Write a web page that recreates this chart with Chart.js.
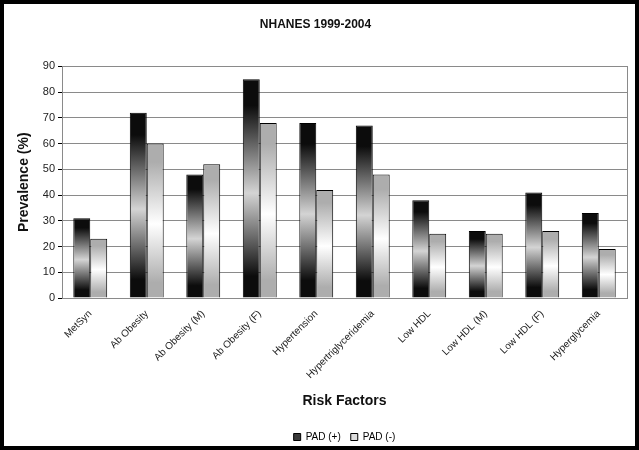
<!DOCTYPE html>
<html>
<head>
<meta charset="utf-8">
<script src="https://cdn.jsdelivr.net/npm/chart.js@4/dist/chart.umd.min.js"></script>
<style>
  html, body { margin: 0; padding: 0; background: #fff; }
  #frame { width: 639px; height: 450px; box-sizing: border-box; border: 4px solid #000; background: #fff; overflow: hidden; }
  #chart { display: block; }
</style>
</head>
<body>
<div id="frame"><canvas id="chart" width="631" height="442"></canvas></div>
<script>
// data
const categories = ["MetSyn", "Ab Obesity", "Ab Obesity (M)", "Ab Obesity (F)", "Hypertension",
  "Hypertriglyceridemia", "Low HDL", "Low HDL (M)", "Low HDL (F)", "Hyperglycemia"];
const padPlus = [31, 72, 48, 85, 68, 67, 38, 26, 41, 33];
const padMinus = [23, 60, 52, 68, 42, 48, 25, 25, 26, 19];
const yTicks = [0, 10, 20, 30, 40, 50, 60, 70, 80, 90];

const FONT = "'Liberation Sans', Arial, Helvetica, sans-serif";

// vertical gradient per bar: edge colour at top and base, light in the middle
function barFill(edge, mid) {
  return function (ctx) {
    const chart = ctx.chart;
    if (!chart.chartArea || ctx.type !== 'data') return mid;
    const y = chart.scales.y;
    const yTop = y.getPixelForValue(ctx.raw);
    const yBase = y.getPixelForValue(0);
    if (!isFinite(yTop) || yBase - yTop < 1) return mid;
    const g = chart.ctx.createLinearGradient(0, yTop, 0, yBase);
    g.addColorStop(0, edge);
    g.addColorStop(0.12, edge);
    g.addColorStop(0.52, mid);
    g.addColorStop(0.9, edge);
    g.addColorStop(1, edge);
    return g;
  };
}

// grey frame round the plot area
const plotBorder = {
  id: 'plotBorder',
  beforeDatasetsDraw(chart) {
    const { ctx, chartArea: a } = chart;
    ctx.save();
    ctx.strokeStyle = '#8a8a8a';
    ctx.lineWidth = 1;
    ctx.strokeRect(Math.round(a.left) + 0.5, Math.round(a.top) + 0.5,
      Math.round(a.right - a.left), Math.round(a.bottom - a.top));
    ctx.restore();
  }
};

new Chart(document.getElementById('chart'), {
  type: 'bar',
  data: {
    labels: categories,
    datasets: [
      {
        label: 'PAD (+)',
        data: padPlus,
        backgroundColor: barFill('#0c0c0c', '#d4d4d4'),
        borderColor: '#000',
        borderWidth: 1,
        categoryPercentage: 0.6,
        barPercentage: 1.0
      },
      {
        label: 'PAD (-)',
        data: padMinus,
        backgroundColor: barFill('#adadad', '#ffffff'),
        borderColor: '#000',
        borderWidth: 1,
        categoryPercentage: 0.6,
        barPercentage: 1.0
      }
    ]
  },
  options: {
    responsive: false,
    animation: false,
    // negative bottom padding pushes the legend's spare space off the canvas
    layout: { padding: { left: 0, right: 8, top: 0, bottom: -6 } },
    plugins: {
      title: {
        display: true,
        text: 'NHANES 1999-2004',
        color: '#111',
        font: { family: FONT, size: 12, weight: 'bold' },
        padding: { top: 13, bottom: 35 }
      },
      legend: {
        position: 'bottom',
        fullSize: false,
        labels: {
          color: '#333',
          font: { family: FONT, size: 10 },
          boxWidth: 7,
          boxHeight: 7,
          padding: 10,
          generateLabels(chart) {
            const fills = ['#3a3a3a', '#dcdcdc'];
            return chart.data.datasets.map((ds, i) => ({
              text: ds.label,
              fillStyle: fills[i],
              strokeStyle: '#000',
              lineWidth: 1,
              datasetIndex: i
            }));
          }
        }
      },
      tooltip: { enabled: false }
    },
    scales: {
      x: {
        grid: { display: false },
        border: { display: true, color: '#000', width: 1 },
        ticks: {
          color: '#222',
          font: { family: FONT, size: 10 },
          minRotation: 45,
          maxRotation: 45,
          padding: 2
        },
        title: {
          display: true,
          text: 'Risk Factors',
          color: '#111',
          font: { family: FONT, size: 14, weight: 'bold' },
          padding: { top: 0, bottom: 12 }
        },
        afterFit(scale) { scale.height = 124; }
      },
      y: {
        min: 0,
        max: 90,
        afterBuildTicks(scale) { scale.ticks = yTicks.map(v => ({ value: v })); },
        grid: { color: '#8a8a8a', lineWidth: 1, tickLength: 4, tickColor: '#000' },
        border: { display: true, color: '#000', width: 1 },
        ticks: {
          color: '#222',
          font: { family: FONT, size: 11 },
          padding: 3
        },
        title: {
          display: true,
          text: 'Prevalence (%)',
          color: '#111',
          font: { family: FONT, size: 14, weight: 'bold' },
          padding: { top: 12, bottom: 0 }
        },
        afterFit(scale) { scale.width = 58; }
      }
    }
  },
  plugins: [plotBorder]
});
</script>
</body>
</html>
